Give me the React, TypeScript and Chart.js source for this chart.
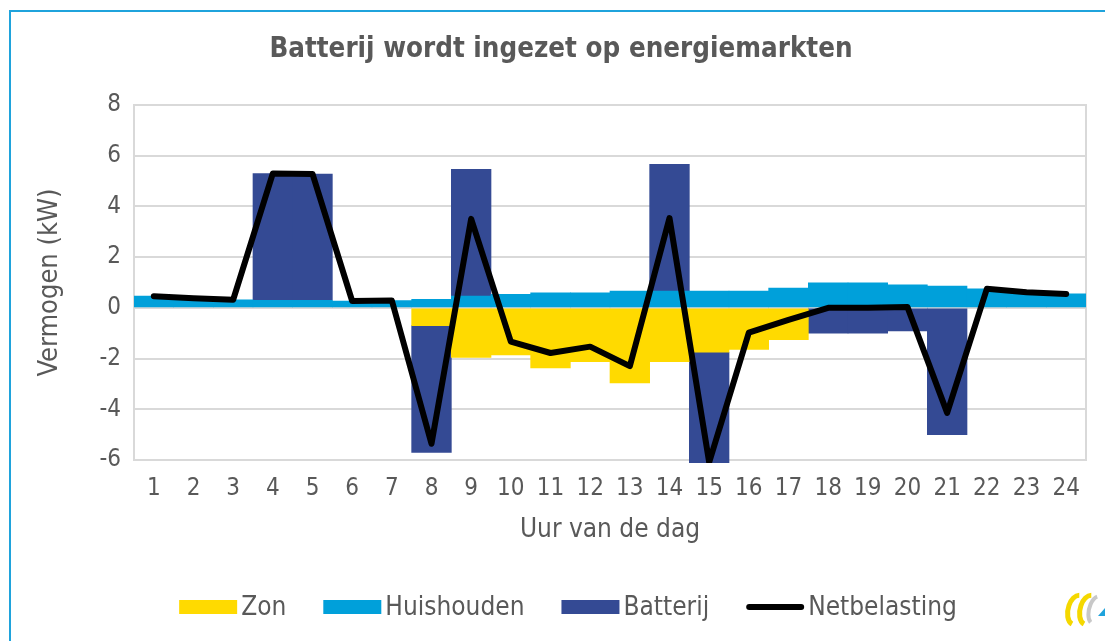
import React, { useEffect, useRef } from "react";
import { Chart, registerables } from "chart.js";

Chart.register(...registerables);

const hours = ["1", "2", "3", "4", "5", "6", "7", "8", "9", "10", "11", "12", "13", "14", "15", "16", "17", "18", "19", "20", "21", "22", "23", "24"];
const zon = [null, null, null, null, null, null, null, -0.7, -1.95, -1.86, -2.37, -2.12, -2.96, -2.12, -1.75, -1.64, -1.25, null, null, null, null, null, null, null];
const huishouden = [0.46, 0.38, 0.32, 0.3, 0.3, 0.27, 0.29, 0.34, 0.46, 0.53, 0.59, 0.59, 0.66, 0.66, 0.66, 0.66, 0.78, 0.99, 0.99, 0.91, 0.86, 0.75, 0.6, 0.55];
const batterij = [null, null, null, 5.0, 4.98, null, null, -5.0, 5.0, null, null, null, null, 5.0, -5.0, null, null, -1.0, -1.0, -0.91, -5.0, null, null, null];
const netbelasting = [0.46, 0.38, 0.32, 5.3, 5.28, 0.27, 0.29, -5.36, 3.51, -1.33, -1.78, -1.53, -2.3, 3.54, -6.09, -0.98, -0.47, 0.0, 0.0, 0.03, -4.14, 0.75, 0.62, 0.55];
const yMin = -6;
const yMax = 8;
const yStep = 2;

const FONT = "'Liberation Sans Narrow', 'DejaVu Sans Condensed', 'Arial Narrow', sans-serif";
const TEXT = "#595959";
const GRID = "#D9D9D9";

const framePlugin = {
  id: "frame",
  beforeDraw(chart: any) {
    const ctx = chart.ctx;
    ctx.save();
    ctx.fillStyle = "#ffffff";
    ctx.fillRect(0, 0, chart.width, chart.height);
    ctx.strokeStyle = "#1FA3DC";
    ctx.lineWidth = 2;
    ctx.beginPath();
    ctx.moveTo(10, chart.height + 5);
    ctx.lineTo(10, 11);
    ctx.lineTo(chart.width + 5, 11);
    ctx.stroke();
    ctx.restore();
  },
  beforeDatasetsDraw(chart: any) {
    const { ctx, chartArea } = chart;
    ctx.save();
    ctx.strokeStyle = GRID;
    ctx.lineWidth = 2;
    ctx.strokeRect(chartArea.left, chartArea.top, chartArea.right - chartArea.left, chartArea.bottom - chartArea.top);
    ctx.restore();
  },
  afterDraw(chart: any) {
    const ctx = chart.ctx;
    ctx.save();
    ctx.font = `26px ${FONT}`;
    ctx.textBaseline = "middle";
    const boxW = 58;
    const gapText = 4;
    const gapItem = 37;
    const ds = chart.data.datasets;
    const widths = ds.map((d: any) => boxW + gapText + ctx.measureText(d.label).width);
    const total = widths.reduce((a: number, b: number) => a + b, 0) + gapItem * (ds.length - 1);
    let x = 568 - total / 2;
    const y = 607;
    ds.forEach((d: any, i: number) => {
      if (d.type === "line") {
        ctx.strokeStyle = d.borderColor;
        ctx.lineWidth = 6;
        ctx.lineCap = "round";
        ctx.beginPath();
        ctx.moveTo(x + 3, y);
        ctx.lineTo(x + boxW - 3, y);
        ctx.stroke();
      } else {
        ctx.fillStyle = d.backgroundColor;
        ctx.fillRect(x, y - 7, boxW, 14);
      }
      ctx.fillStyle = TEXT;
      ctx.fillText(d.label, x + boxW + gapText, y + 1);
      x += widths[i] + gapItem;
    });
    // small logo mark in the corner
    ctx.lineWidth = 5;
    ctx.lineCap = "butt";
    ctx.strokeStyle = "#F5D800";
    ctx.beginPath();
    ctx.ellipse(1077, 610, 9, 15, 0.25, Math.PI * 0.55, Math.PI * 1.45);
    ctx.stroke();
    ctx.beginPath();
    ctx.ellipse(1089, 610, 9, 15, 0.25, Math.PI * 0.55, Math.PI * 1.45);
    ctx.stroke();
    ctx.strokeStyle = "#C8C8C8";
    ctx.lineWidth = 4;
    ctx.beginPath();
    ctx.ellipse(1096, 610, 7, 14, 0.25, Math.PI * 0.6, Math.PI * 1.4);
    ctx.stroke();
    ctx.fillStyle = "#1FA3DC";
    ctx.beginPath();
    ctx.moveTo(1098, 616);
    ctx.lineTo(1105, 608);
    ctx.lineTo(1105, 616);
    ctx.closePath();
    ctx.fill();
    ctx.restore();
  },
};

export default function App() {
  const ref = useRef<HTMLCanvasElement>(null);
  useEffect(() => {
    const canvas = ref.current!;
    const chart = new Chart(canvas, {
      type: "bar",
      data: {
        labels: hours,
        datasets: [
          { type: "bar", label: "Zon", data: zon, backgroundColor: "#FFDA00", order: 1, categoryPercentage: 1, barPercentage: 1, borderWidth: 0, clip: 0 } as any,
          { type: "bar", label: "Huishouden", data: huishouden, backgroundColor: "#00A0DA", order: 2, categoryPercentage: 1, barPercentage: 1, borderWidth: 0, clip: 0 } as any,
          { type: "bar", label: "Batterij", data: batterij, backgroundColor: "#344A94", order: 3, categoryPercentage: 1, barPercentage: 1, borderWidth: 0, clip: { left: 0, right: 0, top: 0, bottom: 3 } } as any,
          { type: "line", label: "Netbelasting", data: netbelasting, borderColor: "#000000", backgroundColor: "#000000", borderWidth: 6, pointRadius: 0, tension: 0, stack: "net", order: 0, borderCapStyle: "round", borderJoinStyle: "round", clip: { left: 0, right: 0, top: 0, bottom: 3 } } as any,
        ],
      },
      options: {
        animation: false,
        responsive: false,
        maintainAspectRatio: false,
        layout: { padding: { left: 36, right: 19, top: 12, bottom: 91 } },
        plugins: {
          legend: { display: false },
          tooltip: { enabled: false },
          title: {
            display: true,
            text: "Batterij wordt ingezet op energiemarkten",
            color: TEXT,
            font: { family: FONT, size: 27.5, weight: "bold", lineHeight: 1.2 },
            padding: { top: 21, bottom: 39 },
          },
        },
        scales: {
          x: {
            stacked: true,
            grid: { display: false, drawTicks: false },
            border: { display: false },
            ticks: { color: TEXT, font: { family: FONT, size: 24 }, padding: 14, maxRotation: 0, autoSkip: false },
            title: { display: true, text: "Uur van de dag", color: TEXT, font: { family: FONT, size: 26, lineHeight: 1.2 }, padding: { top: 0, bottom: 4 } },
            afterFit: (scale: any) => { scale.height = 90; },
          },
          y: {
            stacked: true,
            min: yMin,
            max: yMax,
            grid: { color: GRID, lineWidth: 2, drawTicks: false },
            border: { display: false },
            ticks: { stepSize: yStep, color: TEXT, font: { family: FONT, size: 24 }, padding: 13 },
            title: { display: true, text: "Vermogen (kW)", color: TEXT, font: { family: FONT, size: 27, lineHeight: 1 }, padding: { top: 0, bottom: 0 } },
            afterFit: (scale: any) => { scale.width = 98; },
          },
        },
      },
      plugins: [framePlugin],
    });
    return () => chart.destroy();
  }, []);
  return (
    <div style={{ position: "fixed", left: 0, top: 0, width: 1105, height: 641, overflow: "hidden" }}>
      <canvas ref={ref} width={1105} height={641} style={{ width: 1105, height: 641, display: "block" }} />
    </div>
  );
}
